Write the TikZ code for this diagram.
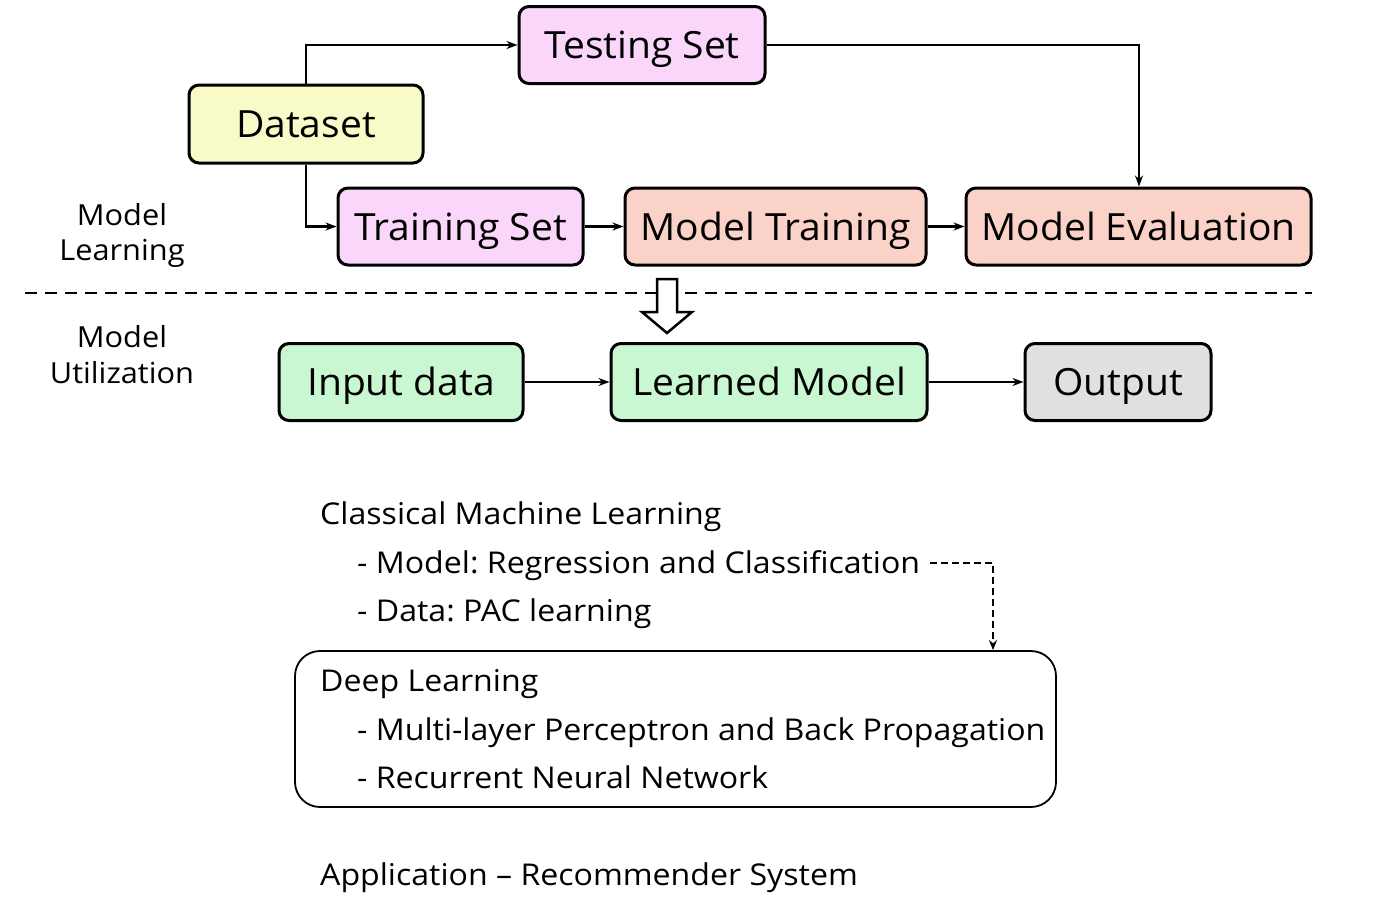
\documentclass[tikz,border=0pt]{standalone}
\usepackage{fontspec}
\setmainfont{Open Sans}
\newfontfamily\boxfont[FakeStretch=1.04]{Open Sans}
\newfontfamily\bodyfont[FakeStretch=1.07]{Open Sans}
\newfontfamily\labfont[FakeStretch=1.06]{Open Sans}
\usetikzlibrary{arrows.meta}
\definecolor{cpink}{RGB}{250,214,250}
\definecolor{cyellow}{RGB}{248,250,200}
\definecolor{csalmon}{RGB}{251,210,200}
\definecolor{cgreen}{RGB}{201,247,209}
\definecolor{cgray}{RGB}{224,224,224}
\tikzset{
  box/.style={draw=black, line width=3pt, rounded corners=10pt, minimum height=77pt,
    inner sep=0pt, text height=27pt, text depth=0pt,
    font=\boxfont\fontsize{37.5}{44}\selectfont},
  conn/.style={line width=2.2pt, -{Stealth[length=11pt,width=8pt]}},
  label/.style={font=\labfont\fontsize{29}{34}\selectfont, inner sep=0pt, anchor=base},
  body/.style={font=\bodyfont\fontsize{30}{36}\selectfont, inner sep=0pt, anchor=base west},
}
\frenchspacing
\begin{document}
\begin{tikzpicture}[x=1pt,y=-1pt]
\useasboundingbox (0,0) rectangle (1398,913);
% boxes
\node[box, fill=cpink, minimum width=246pt] (testing) at (642,45) {Testing Set};
\node[box, fill=cyellow, minimum width=234pt, minimum height=78pt] (dataset) at (306,124) {Dataset};
\node[box, fill=cpink, minimum width=245pt] (training) at (460.5,226.5) {Training Set};
\node[box, fill=csalmon, minimum width=301pt] (mtrain) at (775.5,226.5) {Model Training};
\node[box, fill=csalmon, minimum width=345pt] (meval) at (1138.5,226.5) {Model Evaluation};
\node[box, fill=cgreen, minimum width=244pt] (input) at (401,382) {Input data};
\node[box, fill=cgreen, minimum width=316pt] (learned) at (769,382) {Learned Model};
\node[box, fill=cgray, minimum width=186pt] (output) at (1118,382) {Output};
% connectors
\coordinate (tcorner) at (1139,45);
\draw[conn] (dataset.north) |- (testing.west);
\draw[conn] (dataset.south) |- (training.west);
\draw[conn] (training) -- (mtrain);
\draw[conn] (mtrain) -- (meval);
\draw[conn] (testing.east) -- (tcorner) -- (tcorner |- meval.north);
\draw[conn] (input) -- (learned);
\draw[conn] (learned) -- (output);
% separator
\coordinate (sepL) at (25,293);
\coordinate (sepR) at (1312,293);
\draw[line width=2.5pt, dash pattern=on 12pt off 8pt] (sepL) -- (sepR);
% hollow arrow
\draw[line width=2.5pt, fill=white, line join=miter]
  (657,279) -- (677,279) -- (677,312) -- (692,312) -- (667,333) -- (642,312) -- (657,312) -- cycle;
% side labels
\node[label] (ml1) at (122,225) {Model};
\node[label] (ml2) at (122,260) {Learning};
\node[label] (mu1) at (122,347) {Model};
\node[label] (mu2) at (122,383) {Utilization};
% lower text
\node[body] (cml) at (320,524) {Classical Machine Learning};
\node[body] (cm1) at (357,573) {- Model: Regression and Classification};
\node[body] (cm2) at (357,621) {- Data: PAC learning};
\node[draw=black, line width=1.8pt, rounded corners=25pt, minimum width=761pt, minimum height=156pt] (deep) at (675.5,729) {};
\node[body] (dl) at (320,691) {Deep Learning};
\node[body] (dl1) at (357,740) {- Multi-layer Perceptron and Back Propagation};
\node[body] (dl2) at (357,788) {- Recurrent Neural Network};
\node[body] (app) at (320,885) {Application – Recommender System};
% dashed arrow
\coordinate (dstart) at ([xshift=10pt,yshift=10pt]cm1.base east);
\coordinate (dcorner) at (993,563);
\draw[line width=2pt, dash pattern=on 7pt off 4pt, -{Stealth[length=10pt,width=8pt]}]
  (dstart) -- (dstart -| dcorner) -- (dcorner |- deep.north);
\end{tikzpicture}
\end{document}
